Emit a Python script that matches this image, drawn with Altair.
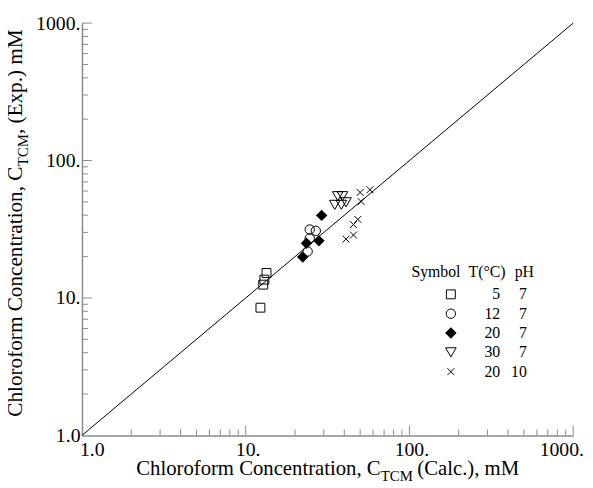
import altair as alt
import pandas as pd

FONT = "Liberation Serif"
GRAY = "#8a8a8a"

# ---- data ----
sq_x = [13.4, 13.0, 12.8, 12.3]
sq_y = [15.2, 13.6, 12.5, 8.5]
ci_x = [24.6, 26.8, 24.6, 23.9]
ci_y = [31.5, 30.8, 27.1, 21.8]
di_x = [29.1, 28.0, 23.5, 22.3]
di_y = [39.9, 26.1, 25.0, 19.9]
tr_x = [36.5, 39.0, 35.0, 38.4, 41.0]
tr_y = [55.0, 55.0, 47.6, 47.6, 49.7]
cr_x = [50.0, 57.4, 50.7, 48.4, 45.5, 45.5, 41.0]
cr_y = [58.6, 61.3, 50.3, 37.3, 34.2, 28.7, 26.8]

line_x = [1, 1000]
line_y = [1, 1000]

legend_T = [5, 12, 20, 30, 20]
legend_pH = [7, 7, 7, 7, 10]

tick_labels_vals = [1, 10, 100, 1000]
major_ticks = [10, 100, 1000]
minor_ticks = [2, 3, 4, 5, 6, 7, 8, 9, 20, 30, 40, 50, 60, 70, 80, 90,
               200, 300, 400, 500, 600, 700, 800, 900]

xtitle_parts = ["Chloroform Concentration, C", "TCM", "(Calc.), mM"]
ytitle_parts = ["Chloroform Concentration, C", "TCM", ", (Exp.) mM"]
legend_header = ["Symbol", "T(\u00b0C)", "pH"]

CROSS = "M-1,-1L1,1M-1,1L1,-1"
series = [
    (sq_x, sq_y, "square", False, 81),
    (ci_x, ci_y, "circle", False, 90),
    (di_x, di_y, "diamond", True, 135),
    (tr_x, tr_y, "triangle-down", False, 115),
    (cr_x, cr_y, CROSS, False, 49),
]

W, H = 498, 418

xscale = alt.Scale(type="log", domain=[1, 1000], nice=False)
yscale = alt.Scale(type="log", domain=[1, 1000], nice=False)

xaxis = alt.Axis(
    values=tick_labels_vals,
    labelExpr="datum.value == 1 ? '1.0' : format(datum.value, 'd') + '.'",
    ticks=False, tickSize=0, grid=False,
    domainColor=GRAY, domainWidth=1.5,
    labelFont=FONT, labelFontSize=20, labelColor="black",
    labelPadding=4, labelFlush=False, labelOverlap=False, labelAngle=0,
    labelOffset={"condition": [{"test": "datum.value == 1", "value": 10},
                               {"test": "datum.value == 1000", "value": -12}],
                 "value": 2},
    title=None,
)
yaxis = alt.Axis(
    values=tick_labels_vals,
    labelExpr="datum.value == 1 ? '1.0' : format(datum.value, 'd') + '.'",
    ticks=False, tickSize=0, grid=False,
    domainColor=GRAY, domainWidth=1.5,
    labelFont=FONT, labelFontSize=20, labelColor="black",
    labelPadding=2, labelFlush=False, labelOverlap=False,
    title=None,
)


def X(f):
    return alt.X(f"{f}:Q", scale=xscale, axis=xaxis)


def Y(f):
    return alt.Y(f"{f}:Q", scale=yscale, axis=yaxis)


layers = []

# diagonal y = x
layers.append(
    alt.Chart(pd.DataFrame({"x": line_x, "y": line_y}))
    .mark_line(color="black", strokeWidth=1)
    .encode(x=X("x"), y=Y("y"))
)

# inward ticks drawn as short path symbols sitting on the axes
for vals, ln in [(major_ticks, 10), (minor_ticks, 6)]:
    size = 4 * ln * ln
    dfx = pd.DataFrame({"v": vals, "edge": [1] * len(vals)})
    layers.append(
        alt.Chart(dfx).mark_point(shape="M0,0L0,-1", filled=False, color=GRAY,
                                  strokeWidth=1, size=size, opacity=1)
        .encode(x=X("v"), y=Y("edge"))
    )
    layers.append(
        alt.Chart(dfx).mark_point(shape="M0,0L1,0", filled=False, color=GRAY,
                                  strokeWidth=1, size=size, opacity=1)
        .encode(x=X("edge"), y=Y("v"))
    )

# data points
for xs, ys, shape, filled, size in series:
    df = pd.DataFrame({"x": xs, "y": ys})
    if filled:
        m = alt.Chart(df).mark_point(shape=shape, filled=True, color="black",
                                     size=size, opacity=1)
    else:
        m = alt.Chart(df).mark_point(shape=shape, filled=False, color="black",
                                     strokeWidth=1, size=size, opacity=1)
    layers.append(m.encode(x=X("x"), y=Y("y")))

# axis titles with subscripts
one = pd.DataFrame({"a": [0]})
xt = [(xtitle_parts[0], 55, 458, 21), (xtitle_parts[1], 303, 464, 15),
      (xtitle_parts[2], 340, 458, 21)]
for txt, px, py, fs in xt:
    layers.append(
        alt.Chart(one).mark_text(font=FONT, fontSize=fs, align="left",
                                 baseline="alphabetic", color="black")
        .encode(x=alt.value(px), y=alt.value(py), text=alt.value(txt))
    )
yt = [(ytitle_parts[0], -60.5, 399, 21.5), (ytitle_parts[1], -54.5, 145, 15),
      (ytitle_parts[2], -60.5, 112.5, 21.5)]
for txt, px, py, fs in yt:
    layers.append(
        alt.Chart(one).mark_text(font=FONT, fontSize=fs, align="left",
                                 baseline="alphabetic", angle=270, color="black")
        .encode(x=alt.value(px), y=alt.value(py), text=alt.value(txt))
    )

# manual legend
LF = 16
hdr_pos = [334, 392, 438.7]
for txt, px in zip(legend_header, hdr_pos):
    layers.append(
        alt.Chart(one).mark_text(font=FONT, fontSize=LF, align="left",
                                 baseline="middle", color="black")
        .encode(x=alt.value(px), y=alt.value(252), text=alt.value(txt))
    )
for i, ((xs, ys, shape, filled, size), t, ph) in enumerate(zip(series, legend_T, legend_pH)):
    ry = 275 + 19.6 * i
    if filled:
        m = alt.Chart(one).mark_point(shape=shape, filled=True, color="black",
                                      size=size, opacity=1)
    else:
        m = alt.Chart(one).mark_point(shape=shape, filled=False, color="black",
                                      strokeWidth=1, size=size, opacity=1)
    layers.append(m.encode(x=alt.value(374), y=alt.value(ry)))
    layers.append(
        alt.Chart(one).mark_text(font=FONT, fontSize=LF, align="right",
                                 baseline="middle", color="black")
        .encode(x=alt.value(424), y=alt.value(ry), text=alt.value(str(t)))
    )
    layers.append(
        alt.Chart(one).mark_text(font=FONT, fontSize=LF, align="right",
                                 baseline="middle", color="black")
        .encode(x=alt.value(451), y=alt.value(ry), text=alt.value(str(ph)))
    )

chart = (
    alt.layer(*layers)
    .properties(width=W, height=H,
                autosize=alt.AutoSizeParams(type="none"),
                padding={"left": 75, "top": 12, "right": 12, "bottom": 50},
                background="white")
    .configure_view(stroke=None)
)

chart.save("out.html", embed_options={"renderer": "svg", "actions": False})
